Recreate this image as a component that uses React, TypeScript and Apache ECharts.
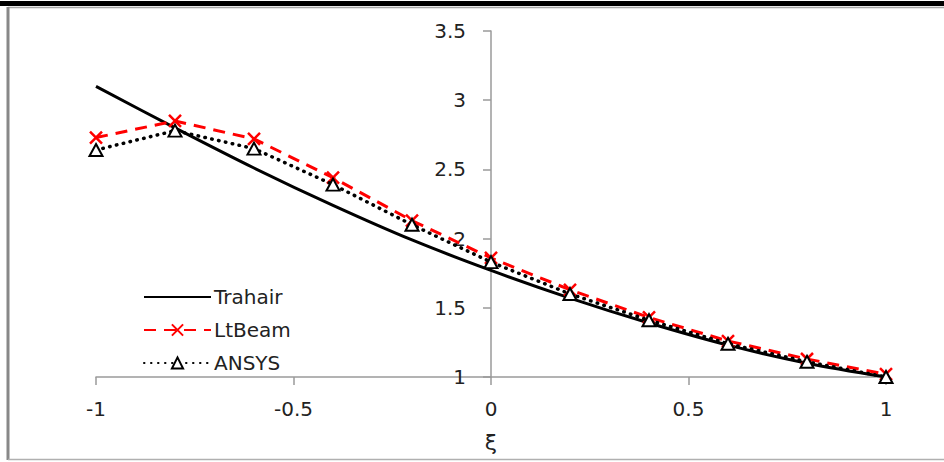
import React, { useEffect, useRef } from "react";
import * as echarts from "echarts";

const xi = [-1, -0.8, -0.6, -0.4, -0.2, 0, 0.2, 0.4, 0.6, 0.8, 1];
const trahair = [3.1, 2.8, 2.51, 2.24, 1.99, 1.77, 1.57, 1.39, 1.23, 1.1, 1.0];
const ltbeam = [2.73, 2.85, 2.72, 2.44, 2.13, 1.86, 1.63, 1.43, 1.26, 1.13, 1.02];
const ansys = [2.64, 2.78, 2.65, 2.39, 2.1, 1.83, 1.6, 1.41, 1.24, 1.11, 1.0];
const yTicks = [1, 1.5, 2, 2.5, 3, 3.5];
const xTicks = [-1, -0.5, 0, 0.5, 1];

const FONT = "'DejaVu Sans', sans-serif";

export default function App() {
  const ref = useRef<HTMLDivElement>(null);
  useEffect(() => {
    if (!ref.current) return;
    const chart = echarts.init(ref.current, undefined, { renderer: "svg" });
    const pair = (ys: number[]) => xi.map((x, i) => [x, ys[i]]);
    chart.setOption({
      animation: false,
      backgroundColor: "#fff",
      textStyle: { fontFamily: FONT },
      grid: { left: 96, right: 58, top: 31, bottom: 85, containLabel: false },
      xAxis: {
        type: "value",
        min: xTicks[0],
        max: xTicks[xTicks.length - 1],
        interval: 0.5,
        name: "ξ",
        nameLocation: "middle",
        nameGap: 54,
        nameTextStyle: { fontSize: 22, color: "#222", fontFamily: FONT },
        axisLine: { onZero: false, lineStyle: { color: "#9a9a9a", width: 1.5 } },
        axisTick: { show: true, length: 8, lineStyle: { color: "#9a9a9a", width: 1.5 } },
        axisLabel: { fontSize: 20, color: "#222", margin: 22, fontFamily: FONT },
        splitLine: { show: false },
      },
      yAxis: {
        type: "value",
        min: yTicks[0],
        max: yTicks[yTicks.length - 1],
        interval: 0.5,
        position: "left",
        offset: -395,
        axisLine: { show: true, onZero: false, lineStyle: { color: "#9a9a9a", width: 1.5 } },
        axisTick: { show: true, length: 8, lineStyle: { color: "#9a9a9a", width: 1.5 } },
        axisLabel: { fontSize: 20, color: "#222", margin: 25, fontFamily: FONT },
        splitLine: { show: false },
      },
      legend: {
        orient: "vertical",
        left: 138,
        top: 280,
        itemWidth: 67,
        itemHeight: 14,
        itemGap: 9,
        textStyle: { fontSize: 20, lineHeight: 24, color: "#222", fontFamily: FONT, padding: [0, 0, 0, -2] },
        data: [
          { name: "Trahair", itemStyle: { opacity: 0 } },
          { name: "LtBeam" },
          { name: "ANSYS" },
        ],
      },
      series: [
        {
          name: "Trahair",
          type: "line",
          data: pair(trahair),
          smooth: 0.3,
          symbol: "none",
          lineStyle: { color: "#000", width: 3 },
          itemStyle: { color: "#000" },
          z: 2,
        },
        {
          name: "LtBeam",
          type: "line",
          data: pair(ltbeam),
          symbol: "path://M0,0L10,10M10,0L0,10",
          symbolSize: 12,
          lineStyle: { color: "#ff0000", width: 3, type: [12, 8] },
          itemStyle: { color: "rgba(0,0,0,0)", borderColor: "#ff0000", borderWidth: 2.5 },
          z: 3,
        },
        {
          name: "ANSYS",
          type: "line",
          data: pair(ansys),
          symbol: "triangle",
          symbolSize: [13, 12],
          lineStyle: { color: "#000", width: 3.5, type: [0.5, 6.5], cap: "round" },
          itemStyle: { color: "#fff", borderColor: "#000", borderWidth: 2 },
          z: 4,
        },
      ],
      graphic: [
        { type: "rect", shape: { x: 0, y: 1, width: 944, height: 5 }, style: { fill: "#000" }, silent: true },
        { type: "line", shape: { x1: 8, y1: 7.5, x2: 944, y2: 7.5 }, style: { stroke: "#a8a8a8", lineWidth: 1.5 }, silent: true },
        { type: "line", shape: { x1: 8, y1: 7, x2: 8, y2: 460 }, style: { stroke: "#888", lineWidth: 3 }, silent: true },
        { type: "line", shape: { x1: 8, y1: 459.5, x2: 944, y2: 459.5 }, style: { stroke: "#b0b0b0", lineWidth: 1.5 }, silent: true },
      ],
    });
    return () => chart.dispose();
  }, []);
  return (
    <div
      ref={ref}
      style={{ position: "fixed", left: 0, top: 0, width: 944, height: 462 }}
    />
  );
}
